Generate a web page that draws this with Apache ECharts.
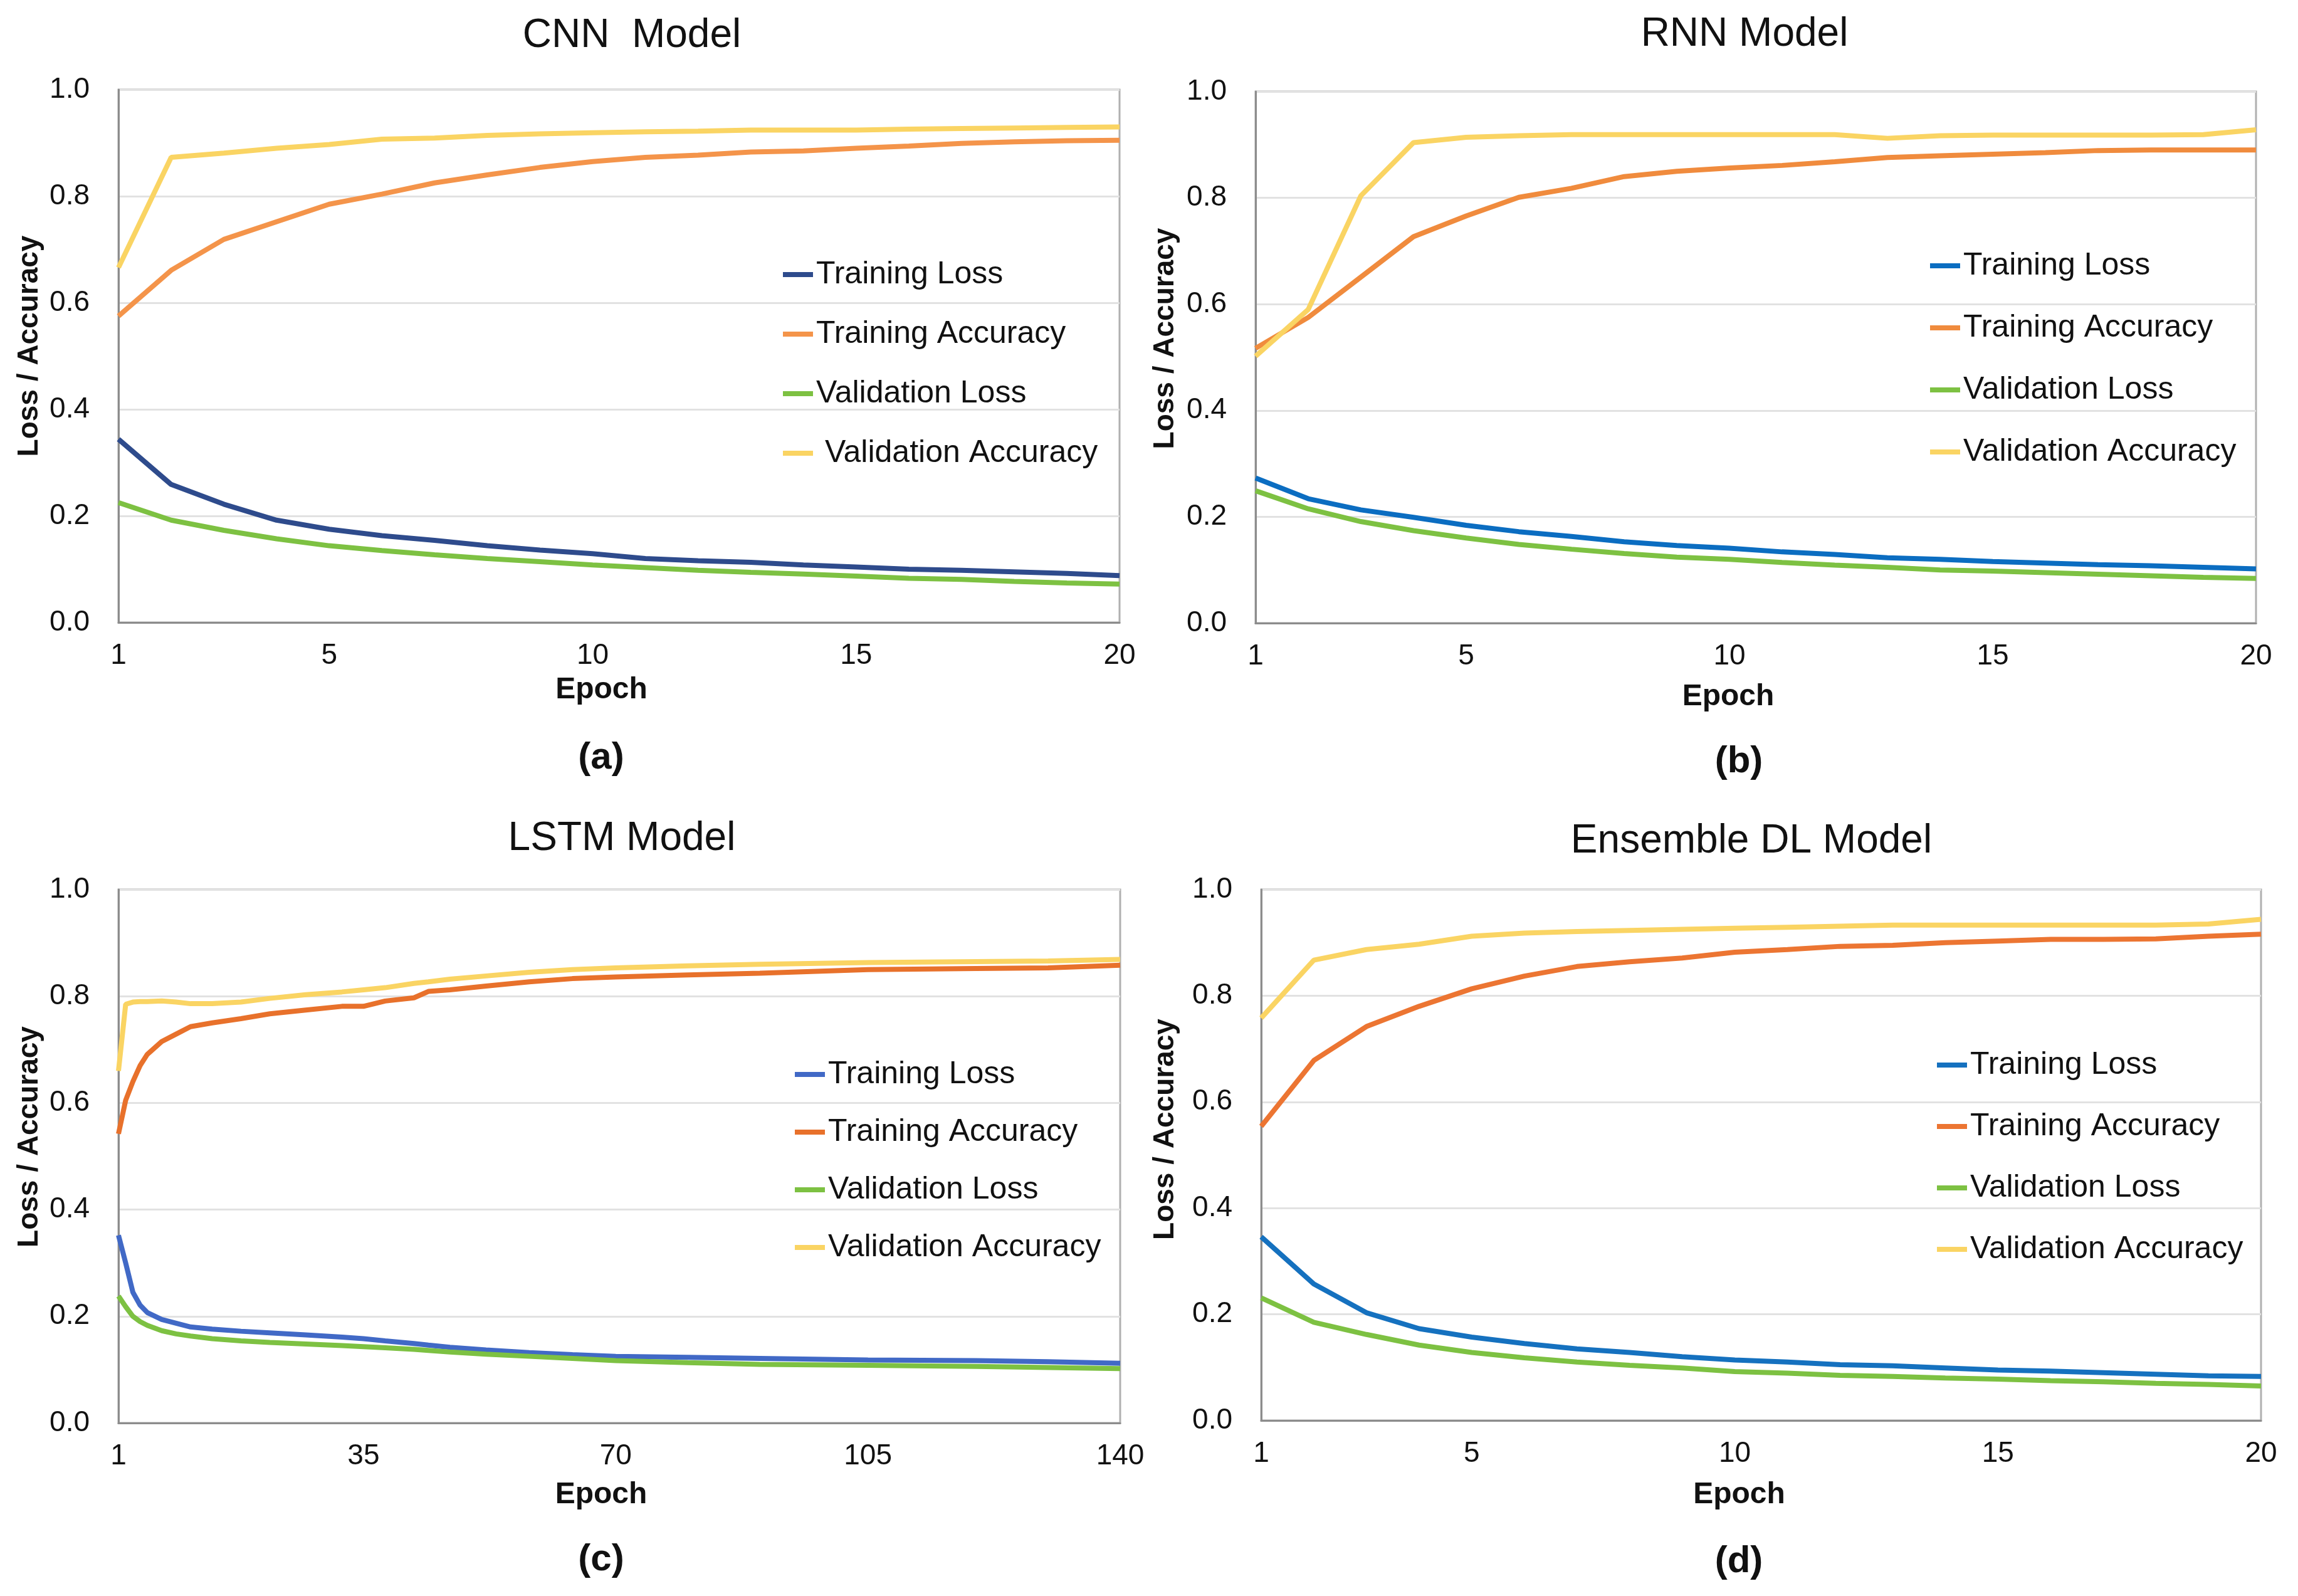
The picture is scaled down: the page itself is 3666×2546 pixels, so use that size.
<!DOCTYPE html>
<html><head><meta charset="utf-8">
<script src="https://cdn.jsdelivr.net/npm/echarts@6/dist/echarts.min.js"></script>
<style>html,body{margin:0;padding:0;background:#fff}#c{width:3666px;height:2546px}</style>
</head><body><div id="c"></div>
<script>
// ---------------- data ----------------
const seriesNames = ['Training Loss', 'Training Accuracy', 'Validation Loss', 'Validation Accuracy'];
const panelTitles = ['CNN  Model', 'RNN Model', 'LSTM Model', 'Ensemble DL Model'];
const panelTags = ['(a)', '(b)', '(c)', '(d)'];
const xTicks20 = [1, 5, 10, 15, 20];
const xTicks140 = [1, 35, 70, 105, 140];

const epochs20 = [1,2,3,4,5,6,7,8,9,10,11,12,13,14,15,16,17,18,19,20];
const lstmEpochs = [1,2,3,4,5,7,9,11,14,18,22,27,32,35,38,42,44,47,52,58,64,70,80,90,105,120,130,140];

const cnnTrainLoss = [0.344,0.259,0.222,0.192,0.175,0.163,0.154,0.144,0.136,0.129,0.120,0.116,0.113,0.108,0.104,0.100,0.098,0.095,0.092,0.088];
const cnnTrainAcc  = [0.575,0.661,0.719,0.752,0.785,0.804,0.825,0.840,0.854,0.865,0.873,0.877,0.883,0.885,0.890,0.894,0.899,0.902,0.904,0.905];
const cnnValLoss   = [0.225,0.192,0.173,0.157,0.144,0.135,0.127,0.120,0.114,0.108,0.103,0.098,0.094,0.091,0.087,0.083,0.081,0.077,0.074,0.072];
const cnnValAcc    = [0.666,0.873,0.881,0.890,0.897,0.907,0.909,0.914,0.917,0.919,0.921,0.922,0.924,0.924,0.924,0.926,0.927,0.928,0.929,0.930];

const rnnTrainLoss = [0.273,0.234,0.213,0.199,0.184,0.172,0.163,0.153,0.146,0.141,0.134,0.129,0.123,0.120,0.116,0.113,0.110,0.108,0.105,0.102];
const rnnTrainAcc  = [0.517,0.575,0.651,0.727,0.766,0.801,0.818,0.840,0.850,0.856,0.861,0.868,0.876,0.879,0.882,0.885,0.889,0.890,0.890,0.890];
const rnnValLoss   = [0.249,0.215,0.191,0.174,0.160,0.148,0.139,0.131,0.124,0.120,0.114,0.109,0.105,0.100,0.098,0.095,0.092,0.089,0.086,0.084];
const rnnValAcc    = [0.502,0.590,0.804,0.904,0.914,0.917,0.919,0.919,0.919,0.919,0.919,0.919,0.912,0.917,0.918,0.918,0.918,0.918,0.919,0.928];

const lstmTrainLoss = [0.352,0.300,0.245,0.221,0.207,0.194,0.187,0.180,0.176,0.172,0.169,0.165,0.161,0.158,0.154,0.149,0.146,0.142,0.137,0.132,0.128,0.125,0.123,0.121,0.118,0.117,0.115,0.112];
const lstmTrainAcc  = [0.542,0.605,0.640,0.670,0.691,0.715,0.729,0.743,0.750,0.758,0.767,0.774,0.781,0.781,0.791,0.797,0.809,0.812,0.819,0.827,0.833,0.836,0.840,0.843,0.850,0.852,0.853,0.858];
const lstmValLoss   = [0.238,0.218,0.200,0.190,0.183,0.173,0.167,0.163,0.158,0.154,0.151,0.148,0.145,0.143,0.141,0.138,0.136,0.133,0.129,0.125,0.121,0.117,0.113,0.110,0.108,0.106,0.104,0.102];
const lstmValAcc    = [0.660,0.785,0.789,0.790,0.790,0.791,0.789,0.786,0.786,0.789,0.796,0.803,0.808,0.812,0.816,0.824,0.827,0.832,0.838,0.845,0.850,0.853,0.857,0.860,0.863,0.865,0.866,0.869];

const ensTrainLoss = [0.346,0.257,0.203,0.173,0.157,0.145,0.135,0.128,0.120,0.114,0.110,0.105,0.103,0.099,0.095,0.093,0.090,0.087,0.084,0.083];
const ensTrainAcc  = [0.554,0.678,0.742,0.780,0.813,0.837,0.855,0.864,0.871,0.882,0.887,0.893,0.895,0.900,0.903,0.906,0.906,0.907,0.912,0.916];
const ensValLoss   = [0.231,0.185,0.162,0.142,0.128,0.118,0.110,0.104,0.099,0.092,0.089,0.085,0.083,0.080,0.078,0.075,0.073,0.070,0.068,0.065];
const ensValAcc    = [0.758,0.867,0.887,0.897,0.912,0.918,0.921,0.923,0.925,0.927,0.929,0.931,0.933,0.933,0.933,0.933,0.933,0.933,0.935,0.944];

// ---------------- styling / layout ----------------
const FONT = "'Liberation Sans', Arial, sans-serif";
const panels = [
  {x: epochs20, ticks: xTicks20, max: 20, vals: [cnnTrainLoss, cnnTrainAcc, cnnValLoss, cnnValAcc],
   colors: ['#2E4B8C','#F4944A','#7DC142','#FAD463'],
   grid: {left:189, top:143, width:1597, height:850}, title:[1008,57], tag:[959,1209],
   legend:{left:1249, top:413, gap:45}, epochGap:84, epochShift:28, yNameGap:119, yNameShift:16, vaSpace:true},
  {x: epochs20, ticks: xTicks20, max: 20, vals: [rnnTrainLoss, rnnTrainAcc, rnnValLoss, rnnValAcc],
   colors: ['#0B6DC1','#F08B3D','#7DC142','#FAD463'],
   grid: {left:2003, top:146, width:1596, height:848}, title:[2783,55], tag:[2774,1215],
   legend:{left:3079, top:399, gap:49}, epochGap:94, epochShift:44, yNameGap:121, yNameShift:30},
  {x: lstmEpochs, ticks: xTicks140, max: 140, vals: [lstmTrainLoss, lstmTrainAcc, lstmValLoss, lstmValAcc],
   colors: ['#4169C6','#E8712B','#7DC142','#FAD463'],
   grid: {left:189, top:1419, width:1598, height:851}, title:[992,1338], tag:[959,2488],
   legend:{left:1268, top:1689, gap:42}, epochGap:91, epochShift:29, yNameGap:119, yNameShift:31},
  {x: epochs20, ticks: xTicks20, max: 20, vals: [ensTrainLoss, ensTrainAcc, ensValLoss, ensValAcc],
   colors: ['#1571BF','#EC7532','#7DC142','#FAD463'],
   grid: {left:2012, top:1419, width:1595, height:847}, title:[2794,1342], tag:[2774,2491],
   legend:{left:3090, top:1674, gap:48}, epochGap:95, epochShift:35, yNameGap:130, yNameShift:41}
];

const option = {
  backgroundColor: '#fff', animation: false,
  title: [], grid: [], xAxis: [], yAxis: [], legend: [], series: []
};

panels.forEach((p, i) => {
  option.title.push({
    text: panelTitles[i], left: p.title[0], top: p.title[1] - 32, textAlign: 'center', padding: 0,
    textStyle: {fontFamily: FONT, fontSize: 64, fontWeight: 'normal', color: '#111', lineHeight: 64}
  });
  option.title.push({
    text: panelTags[i], left: p.tag[0], top: p.tag[1] - 30, textAlign: 'center', padding: 0,
    textStyle: {fontFamily: FONT, fontSize: 60, fontWeight: 'bold', color: '#111', lineHeight: 60}
  });
  option.grid.push(Object.assign({show: true, borderColor: '#b0b0b0', borderWidth: 3, backgroundColor: '#fff'}, p.grid));
  option.xAxis.push({
    type: 'value', gridIndex: i, min: 1, max: p.max,
    name: 'Epoch', nameLocation: 'middle', nameGap: p.epochGap,
    nameTextStyle: {fontFamily: FONT, fontSize: 48, fontWeight: 'bold', color: '#111', padding: [0, 2 * p.epochShift, 0, 0]},
    axisLine: {show: true, lineStyle: {color: '#8c8c8c', width: 3}},
    axisTick: {show: false}, splitLine: {show: false},
    axisLabel: {customValues: p.ticks, margin: 30, fontFamily: FONT, fontSize: 46, color: '#111'}
  });
  option.yAxis.push({
    type: 'value', gridIndex: i, min: 0, max: 1, interval: 0.2,
    name: 'Loss / Accuracy', nameLocation: 'middle', nameGap: p.yNameGap, nameRotate: 90,
    nameTextStyle: {fontFamily: FONT, fontSize: 46, fontWeight: 'bold', color: '#111', padding: [0, 0, 0, 2 * p.yNameShift]},
    axisLine: {show: true, lineStyle: {color: '#8c8c8c', width: 3}},
    axisTick: {show: false},
    splitLine: {show: true, lineStyle: {color: '#e2e2e2', width: 3}},
    axisLabel: {margin: 46, fontFamily: FONT, fontSize: 46, color: '#111', formatter: v => v.toFixed(1)}
  });
  option.legend.push({
    orient: 'vertical', left: p.legend.left, top: p.legend.top, itemGap: p.legend.gap, padding: 0,
    icon: 'rect', itemWidth: 48, itemHeight: 8, selectedMode: false,
    textStyle: {fontFamily: FONT, fontSize: 50, color: '#111', lineHeight: 50},
    formatter: name => (p.vaSpace && name === 'Validation Accuracy') ? ' ' + name : name,
    data: seriesNames.map((n, k) => ({name: n, itemStyle: {color: p.colors[k]}}))
  });
  seriesNames.forEach((n, k) => {
    option.series.push({
      type: 'line', name: n, xAxisIndex: i, yAxisIndex: i, symbol: 'none', smooth: false,
      lineStyle: {color: p.colors[k], width: 8}, itemStyle: {color: p.colors[k]},
      data: p.x.map((e, j) => [e, p.vals[k][j]])
    });
  });
});

const chart = echarts.init(document.getElementById('c'), null, {renderer: 'canvas'});
chart.setOption(option);
</script>
</body></html>
